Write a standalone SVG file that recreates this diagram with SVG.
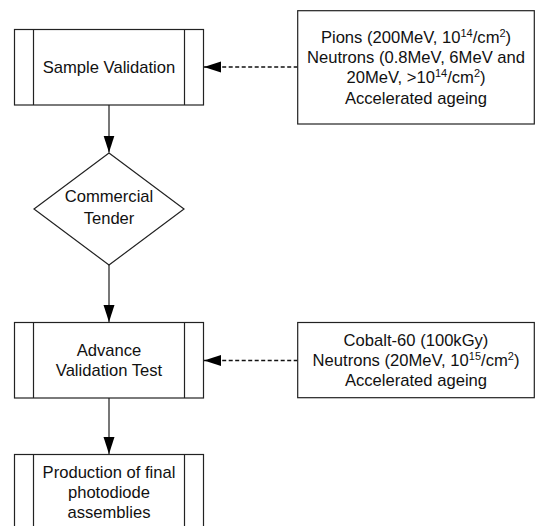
<svg xmlns="http://www.w3.org/2000/svg" width="535" height="526" viewBox="0 0 535 526">
<style>
.box{fill:#fff;stroke:#222;stroke-width:1.2}
.bar{stroke:#222;stroke-width:1.2;fill:none}
.t{font-family:"Liberation Sans",Arial,sans-serif;font-size:16.6px;fill:#111;text-anchor:middle}
.sup{font-size:11px}
.solid{stroke:#555;stroke-width:1.6;fill:none}
.dash{stroke:#111;stroke-width:1.4;fill:none;stroke-dasharray:4 2.5}
</style>
<defs>
<marker id="ah" markerUnits="userSpaceOnUse" markerWidth="18" markerHeight="12" refX="17" refY="6" orient="auto">
<path d="M0,0.5 L17,6 L0,11.5 Z" fill="#000"/>
</marker>
</defs>
<rect width="535" height="526" fill="#fff"/>
<g id="connectors">
<line class="solid" x1="109" y1="105" x2="109" y2="152.5" marker-end="url(#ah)"/>
<line class="solid" x1="109" y1="265" x2="109" y2="322" marker-end="url(#ah)"/>
<line class="solid" x1="109" y1="398" x2="109" y2="454" marker-end="url(#ah)"/>
<line class="dash" x1="297.7" y1="67" x2="204" y2="67" marker-end="url(#ah)"/>
<line class="dash" x1="297.7" y1="360.5" x2="204" y2="360.5" marker-end="url(#ah)"/>
</g>
<g id="sample-validation">
<rect class="box" x="14.5" y="29.5" width="189" height="75.5"/>
<line class="bar" x1="33.5" y1="29.5" x2="33.5" y2="105"/>
<line class="bar" x1="184.5" y1="29.5" x2="184.5" y2="105"/>
<text class="t" x="109" y="72.5">Sample Validation</text>
</g>
<g id="commercial-tender">
<polygon class="box" points="109,153 184,209 109,265 34,209"/>
<text class="t" x="109" y="202">Commercial</text>
<text class="t" x="109" y="224">Tender</text>
</g>
<g id="advance-validation">
<rect class="box" x="14.5" y="322.5" width="189" height="75.5"/>
<line class="bar" x1="33.5" y1="322.5" x2="33.5" y2="398"/>
<line class="bar" x1="184.5" y1="322.5" x2="184.5" y2="398"/>
<text class="t" x="109" y="356">Advance</text>
<text class="t" x="109" y="375.5">Validation Test</text>
</g>
<g id="production">
<rect class="box" x="14.5" y="454.5" width="189" height="80"/>
<line class="bar" x1="33.5" y1="454.5" x2="33.5" y2="530"/>
<line class="bar" x1="184.5" y1="454.5" x2="184.5" y2="530"/>
<text class="t" x="109" y="477.5">Production of final</text>
<text class="t" x="109" y="498">photodiode</text>
<text class="t" x="109" y="518">assemblies</text>
</g>
<g id="test-conditions-1">
<rect class="box" x="297.7" y="10.7" width="236.6" height="113.3"/>
<text class="t" x="416" y="42.5">Pions (200MeV, 10<tspan class="sup" dy="-6">14</tspan><tspan dy="6">/cm</tspan><tspan class="sup" dy="-6">2</tspan><tspan dy="6">)</tspan></text>
<text class="t" x="416" y="62.8">Neutrons (0.8MeV, 6MeV and</text>
<text class="t" x="416" y="83.3">20MeV, &gt;10<tspan class="sup" dy="-6">14</tspan><tspan dy="6">/cm</tspan><tspan class="sup" dy="-6">2</tspan><tspan dy="6">)</tspan></text>
<text class="t" x="416" y="104">Accelerated ageing</text>
</g>
<g id="test-conditions-2">
<rect class="box" x="297.7" y="322.5" width="236.6" height="75.2"/>
<text class="t" x="416" y="346">Cobalt-60 (100kGy)</text>
<text class="t" x="416" y="366">Neutrons (20MeV, 10<tspan class="sup" dy="-6">15</tspan><tspan dy="6">/cm</tspan><tspan class="sup" dy="-6">2</tspan><tspan dy="6">)</tspan></text>
<text class="t" x="416" y="386">Accelerated ageing</text>
</g>
</svg>
